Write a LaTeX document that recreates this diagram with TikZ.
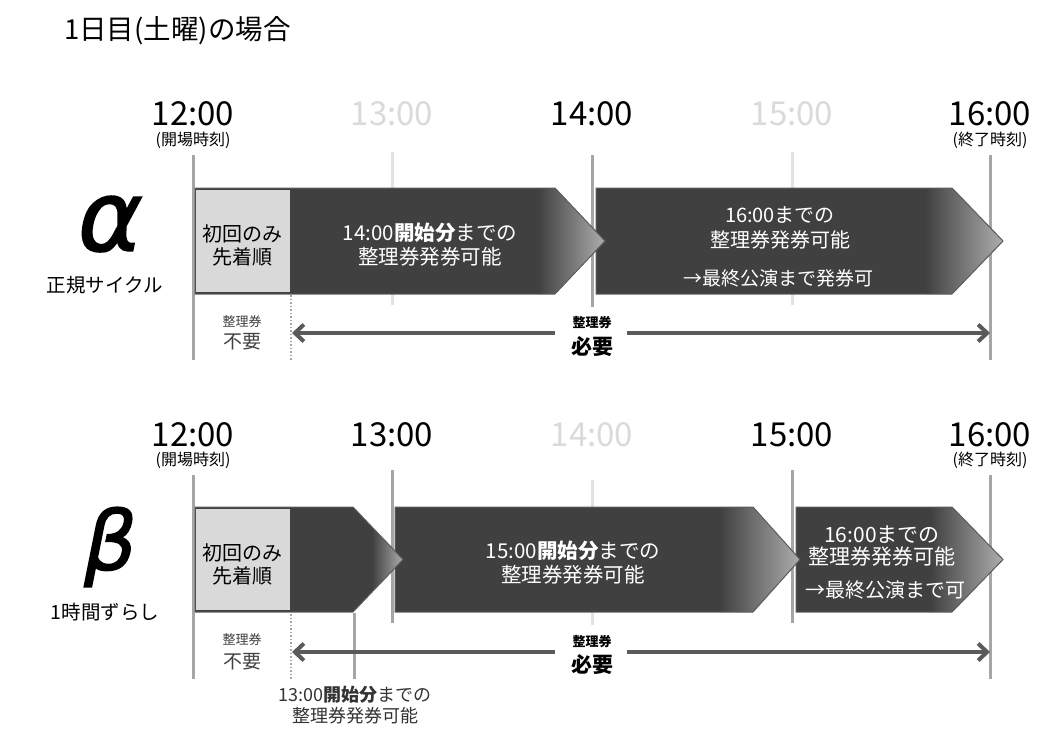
\documentclass[tikz,border=0pt]{standalone}
\usepackage{fontspec}
\setmainfont{Noto Sans CJK JP}
\newfontfamily\greekfont[FakeBold=1.6,FakeSlant=0.2]{DejaVu Sans}
\usetikzlibrary{arrows.meta}
\definecolor{dark}{HTML}{404040}
\definecolor{boxgray}{HTML}{D9D9D9}
\definecolor{tline}{HTML}{A6A6A6}
\definecolor{lline}{HTML}{E2E2E2}
\definecolor{ltext}{HTML}{DADADA}
\definecolor{tipgray}{HTML}{ADADAD}
\definecolor{arrgray}{HTML}{5A5A5A}
\definecolor{edge}{HTML}{5C5C5C}
\newcommand\fs[2]{\fontsize{#1pt}{#2pt}\selectfont}
\newcommand\pentarrow[6]{%
  \begin{scope}
    \clip (#1,#4) -- (#2,#4) -- (#3,{(#4+#5)/2}) -- (#2,#5) -- (#1,#5) -- cycle;
    \fill[dark] (#1,#4) rectangle (#3,#5);
    \shade[left color=dark,right color=tipgray] (#6,#4) rectangle (#3,#5);
  \end{scope}
  \draw[edge,line width=1pt,line join=miter] (#1,#4) -- (#2,#4) -- (#3,{(#4+#5)/2}) -- (#2,#5) -- (#1,#5) -- cycle;
}
\tikzset{
  tbig/.style={font=\fs{33}{33}, inner sep=0},
  tsmall/.style={font=\fs{16}{16}, inner sep=0},
  tl/.style={line width=3pt, draw=tline},
  ll/.style={line width=3pt, draw=lline},
  wtext/.style={text=white, align=center, inner sep=0},
  btext/.style={text=black, align=center, inner sep=0},
  dbl/.style={line width=4pt, draw=arrgray},
  dotl/.style={line width=1.5pt, draw=tline, dash pattern=on 1.5pt off 2pt},
  gapnode/.style={minimum width=72, minimum height=8, inner sep=0},
  smalllab/.style={font=\fs{13}{13}, text=black!75, inner sep=0},
  midlab/.style={font=\fs{19}{19}, text=black!75, inner sep=0},
  boldsmall/.style={font=\fs{13}{13}\bfseries, inner sep=0},
  boldbig/.style={font=\fs{21}{21}\bfseries, inner sep=0}
}
\begin{document}
\begin{tikzpicture}[x=1pt,y=-1pt]
\fill[white] (0,0) rectangle (1060,736);
\useasboundingbox (0,0) rectangle (1060,736);

% title
\node[anchor=west, font=\fs{27.5}{27.5}, inner sep=0] (title) at (64,31) {1日目(土曜)の場合};

%%%%%%%%%%%% ALPHA %%%%%%%%%%%%
\node[tbig] (a12) at (193,114) {12:00};
\node[tsmall] (a12s) at (193,140) {(開場時刻)};
\node[tbig,text=ltext] (a13) at (392,114) {13:00};
\node[tbig] (a14) at (592,114) {14:00};
\node[tbig,text=ltext] (a15) at (792,114) {15:00};
\node[tbig] (a16) at (990,114) {16:00};
\node[tsmall] (a16s) at (990,140) {(終了時刻)};

\draw[tl] (193,155) -- (193,360);
\draw[ll] (392,152) -- (392,305);
\draw[tl] (592,155) -- (592,307);
\draw[ll] (792,152) -- (792,305);
\draw[tl] (990,155) -- (990,360);

\node[inner sep=0] (alpha) at (105,224) {\greekfont\fs{98}{98}α};
\node[font=\fs{19.5}{19.5}, inner sep=0] (alab) at (105,285) {正規サイクル};

\pentarrow{596}{952}{1003}{188}{294}{925}
\pentarrow{195}{555}{605}{188}{294}{538}
\fill[boxgray] (196,190) rectangle (290,292);

\node[btext, font=\fs{20}{23}] (abox) at (242,245.5) {初回のみ\\先着順};
\node[wtext, font=\fs{20.5}{24}] (at1) at (430,245) {14:00\textbf{開始分}までの\\整理券発券可能};
\node[wtext, font=\fs{20}{25}] (at2) at (780,227.5) {16:00までの\\整理券発券可能};
\node[wtext, font=\fs{19}{19}] (at3) at (778,278) {→最終公演まで発券可};

\draw[dotl] (291,295) -- (291,360);
\node[smalllab] (an1) at (242,322) {整理券};
\node[midlab] (an2) at (242,342) {不要};
\node[gapnode] (agap) at (591,333) {};
\node[boldsmall] (ar1) at (592,323) {整理券};
\node[boldbig] (ar2) at (592,347) {必要};
\coordinate (aL) at (292,333);
\coordinate (aR) at (990,333);
\draw[dbl,{Straight Barb[length=9pt,width=17pt]}-] (aL) -- (agap.west);
\draw[dbl,-{Straight Barb[length=9pt,width=17pt]}] (agap.east) -- (aR);

%%%%%%%%%%%% BETA %%%%%%%%%%%%
\node[tbig] (b12) at (193,435) {12:00};
\node[tsmall] (b12s) at (193,460) {(開場時刻)};
\node[tbig] (b13) at (392,435) {13:00};
\node[tbig,text=ltext] (b14) at (592,435) {14:00};
\node[tbig] (b15) at (792,435) {15:00};
\node[tbig] (b16) at (990,435) {16:00};
\node[tsmall] (b16s) at (990,460) {(終了時刻)};

\draw[tl] (193,475) -- (193,679);
\draw[tl] (392,470) -- (392,623);
\draw[ll] (592,480) -- (592,625);
\draw[tl] (792,470) -- (792,623);
\draw[tl] (990,475) -- (990,679);

\node[inner sep=0] (beta) at (106,547) {\greekfont\fs{82}{82}β};
\node[font=\fs{19.5}{19.5}, inner sep=0] (blab) at (105,612) {1時間ずらし};

\pentarrow{796}{952}{1003}{507}{612}{930}
\pentarrow{395}{753}{800}{507}{612}{720}
\pentarrow{195}{353}{403}{507}{612}{372}
\fill[boxgray] (196,509) rectangle (290,610);

\node[btext, font=\fs{20}{23}] (bbox) at (242,564) {初回のみ\\先着順};
\node[wtext, font=\fs{20.5}{24}] (bt1) at (573,563) {15:00\textbf{開始分}までの\\整理券発券可能};
\node[wtext, font=\fs{21}{22.5}] (bt2) at (882,546) {16:00までの\\整理券発券可能};
\node[wtext, font=\fs{20}{20}] (bt3) at (885,590) {→最終公演まで可};

\draw[dotl] (291,614) -- (291,680);
\draw[tl] (354,613) -- (354,679);
\node[smalllab] (bn1) at (242,640) {整理券};
\node[midlab] (bn2) at (242,662) {不要};
\node[gapnode] (bgap) at (591,652) {};
\node[boldsmall] (br1) at (592,642) {整理券};
\node[boldbig] (br2) at (592,665) {必要};
\coordinate (bL) at (292,652);
\coordinate (bR) at (990,652);
\draw[dbl,{Straight Barb[length=9pt,width=17pt]}-] (bL) -- (bgap.west);
\draw[dbl,-{Straight Barb[length=9pt,width=17pt]}] (bgap.east) -- (bR);

\node[align=center, font=\fs{18}{21}, text=black!80, inner sep=0] (bpt) at (355,705) {13:00\textbf{開始分}までの\\整理券発券可能};
\end{tikzpicture}
\end{document}
